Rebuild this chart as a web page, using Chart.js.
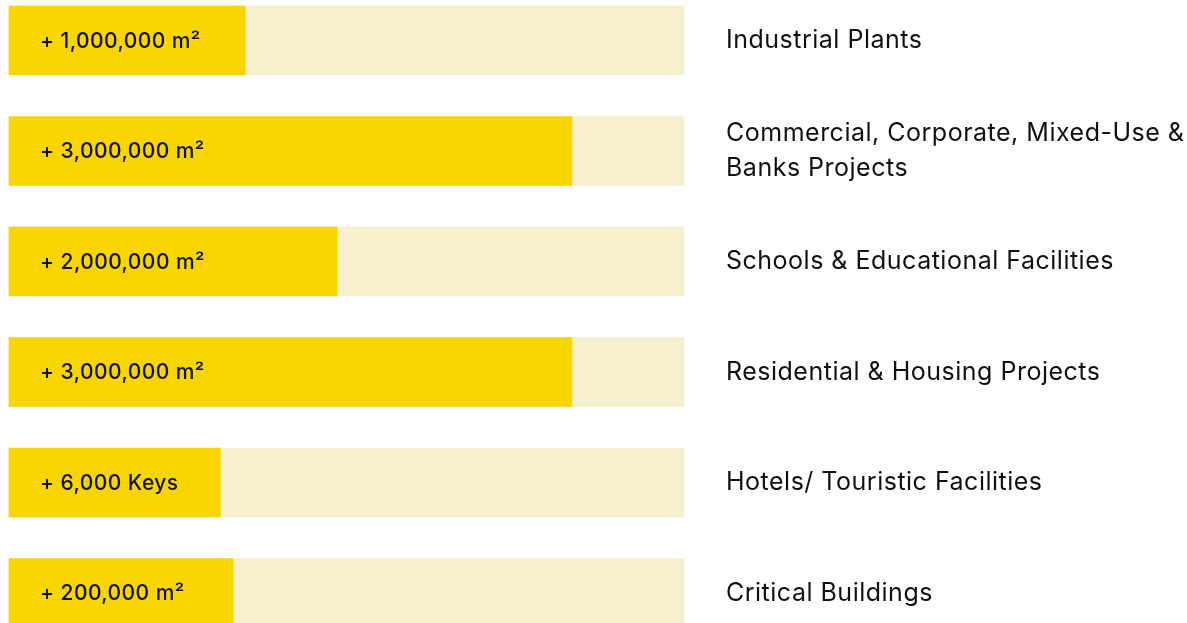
<!DOCTYPE html>
<html>
<head>
<meta charset="utf-8">
<script src="https://cdn.jsdelivr.net/npm/chart.js@4.4.0/dist/chart.umd.min.js"></script>
<style>
html,body{margin:0;padding:0;background:#fff;}
#wrap{position:relative;width:1187px;height:623px;}
</style>
</head>
<body>
<div id="wrap"><canvas id="c" width="1187" height="623"></canvas></div>
<script>
const categories = [
  "Industrial Plants",
  ["Commercial, Corporate, Mixed-Use &", "Banks Projects"],
  "Schools & Educational Facilities",
  "Residential & Housing Projects",
  "Hotels/ Touristic Facilities",
  "Critical Buildings"
];
const fillValues = [35, 83.4, 48.6, 83.4, 31.3, 33.2];
const trackValues = [100, 100, 100, 100, 100, 100];
const valueLabels = [
  "+ 1,000,000 m\u00B2",
  "+ 3,000,000 m\u00B2",
  "+ 2,000,000 m\u00B2",
  "+ 3,000,000 m\u00B2",
  "+ 6,000 Keys",
  "+ 200,000 m\u00B2"
];

const FONT = "Inter, 'Open Sans', sans-serif";

const spacing = {
  id: 'spacing',
  beforeDraw(chart) { chart.ctx.letterSpacing = '0.5px'; },
  afterDraw(chart) { chart.ctx.letterSpacing = '0px'; }
};

const innerLabels = {
  id: 'innerLabels',
  afterDatasetsDraw(chart) {
    const ctx = chart.ctx;
    const meta = chart.getDatasetMeta(0);
    ctx.save();
    ctx.letterSpacing = '0.45px';
    ctx.fillStyle = '#111';
    ctx.font = "500 21px " + FONT;
    ctx.textBaseline = 'middle';
    ctx.textAlign = 'left';
    meta.data.forEach((bar, i) => {
      ctx.fillText(valueLabels[i], chart.scales.x.getPixelForValue(0) + 31, bar.y + 1);
    });
    ctx.restore();
  }
};

new Chart(document.getElementById('c'), {
  type: 'bar',
  data: {
    labels: categories,
    datasets: [
      { data: fillValues, backgroundColor: '#F9D500', grouped: false, barThickness: 69, borderWidth: 0, clip: false, order: 0 },
      { data: trackValues, backgroundColor: '#F6F0CE', grouped: false, barThickness: 69, borderWidth: 0, clip: false, order: 1 }
    ]
  },
  options: {
    indexAxis: 'y',
    responsive: false,
    animation: false,
    layout: { padding: { left: 9, top: 40.5, bottom: 30, right: 0 } },
    plugins: { legend: { display: false }, tooltip: { enabled: false } },
    scales: {
      x: { display: false, min: 0, max: 100 },
      y: {
        position: 'right',
        offset: false,
        grid: { display: false, drawTicks: false },
        border: { display: false },
        afterFit(scale) {
          scale.width = 503;
          scale.paddingTop = 0;
          scale.paddingBottom = 0;
        },
        ticks: {
          crossAlign: 'near',
          padding: 42,
          color: '#111',
          font: { family: FONT, size: 25, weight: '400', lineHeight: 1.4 }
        }
      }
    }
  },
  plugins: [spacing, innerLabels]
});
</script>
</body>
</html>
